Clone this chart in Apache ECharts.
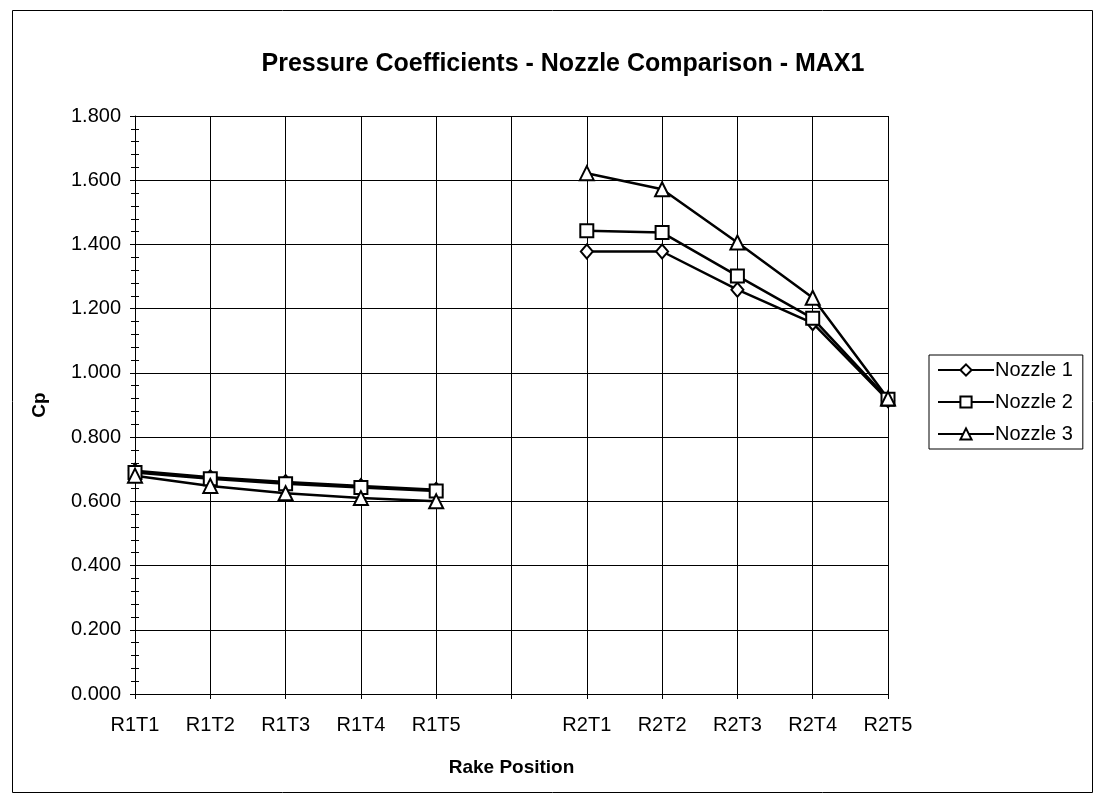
<!DOCTYPE html>
<html>
<head>
<meta charset="utf-8">
<script src="https://cdn.jsdelivr.net/npm/echarts@6/dist/echarts.min.js"></script>
<style>
  html, body { margin: 0; padding: 0; background: #fff; }
  #chart { width: 1096px; height: 800px; }
</style>
</head>
<body>
<div id="chart"></div>
<script>
// Rake positions; the empty slot separates rake 1 from rake 2
const categories = ['R1T1', 'R1T2', 'R1T3', 'R1T4', 'R1T5', '', 'R2T1', 'R2T2', 'R2T3', 'R2T4', 'R2T5'];

// Pressure coefficient per nozzle
const nozzle1 = [0.695, 0.675, 0.660, 0.648, 0.636, null, 1.378, 1.378, 1.259, 1.155, 0.915];
const nozzle2 = [0.690, 0.670, 0.655, 0.643, 0.632, null, 1.443, 1.437, 1.302, 1.170, 0.918];
const nozzle3 = [0.680, 0.648, 0.625, 0.610, 0.600, null, 1.622, 1.572, 1.406, 1.234, 0.920];

const seriesNames = ['Nozzle 1', 'Nozzle 2', 'Nozzle 3'];
const yTicks = { min: 0, max: 1.8, interval: 0.2 };

const FONT = '"Liberation Sans", Arial, sans-serif';
const chart = echarts.init(document.getElementById('chart'), null, { renderer: 'canvas' });

function lineSeries(name, data, symbol, size) {
  return {
    name: name,
    type: 'line',
    data: data,
    connectNulls: false,
    symbol: symbol,
    symbolSize: size,
    showAllSymbol: true,
    lineStyle: { color: '#000', width: 2.5 },
    itemStyle: { color: '#fff', borderColor: '#000', borderWidth: 2 },
    emphasis: { disabled: true },
    z: 3
  };
}

chart.setOption({
  animation: false,
  backgroundColor: '#fff',
  title: {
    text: 'Pressure Coefficients - Nozzle Comparison - MAX1',
    left: 558,
    textAlign: 'center',
    top: 47,
    textStyle: { fontFamily: FONT, fontWeight: 'bold', fontSize: 25, color: '#000' }
  },
  legend: {
    orient: 'vertical',
    left: 929,
    top: 355,
    data: seriesNames,
    itemWidth: 56,
    itemHeight: 14,
    itemGap: 12,
    padding: [5, 10, 5, 8],
    borderColor: '#000',
    borderWidth: 1,
    textStyle: { fontFamily: FONT, fontSize: 20, color: '#000', padding: [0, 0, 0, -4] }
  },
  grid: { left: 135, right: 208, top: 116, bottom: 106, containLabel: false },
  xAxis: {
    type: 'category',
    data: categories,
    boundaryGap: false,
    name: 'Rake Position',
    nameLocation: 'middle',
    nameGap: 64,
    nameTextStyle: { fontFamily: FONT, fontWeight: 'bold', fontSize: 19, color: '#000' },
    axisLine: { show: true, lineStyle: { color: '#000', width: 1 } },
    axisTick: { show: true, alignWithLabel: true, length: 5, lineStyle: { color: '#000' } },
    axisLabel: { fontFamily: FONT, fontSize: 20, color: '#000', margin: 21, interval: 0 },
    splitLine: { show: true, lineStyle: { color: '#000', width: 1 } }
  },
  yAxis: [
    {
      type: 'value',
      min: yTicks.min,
      max: yTicks.max,
      interval: yTicks.interval,
      name: 'Cp',
      nameLocation: 'middle',
      nameGap: 86,
      nameRotate: 90,
      nameTextStyle: { fontFamily: FONT, fontWeight: 'bold', fontSize: 19, color: '#000' },
      axisLine: { show: true, lineStyle: { color: '#000', width: 1 } },
      axisTick: { show: true, length: 5, lineStyle: { color: '#000' } },
      minorTick: { show: true, splitNumber: 5, length: 4, lineStyle: { color: '#000' } },
      axisLabel: {
        fontFamily: FONT, fontSize: 20, color: '#000', margin: 14,
        formatter: v => v.toFixed(3)
      },
      splitLine: { show: true, lineStyle: { color: '#000', width: 1 } }
    },
    {
      // inner half of the cross-shaped minor ticks
      type: 'value',
      min: yTicks.min,
      max: yTicks.max,
      interval: yTicks.interval,
      position: 'left',
      axisLine: { show: false },
      axisTick: { show: true, inside: true, length: 4, lineStyle: { color: '#000' } },
      minorTick: { show: true, splitNumber: 5, length: 4, lineStyle: { color: '#000' } },
      axisLabel: { show: false },
      splitLine: { show: false }
    }
  ],
  series: [
    lineSeries(seriesNames[0], nozzle1, 'diamond', [12, 14]),
    lineSeries(seriesNames[1], nozzle2, 'rect', 13),
    lineSeries(seriesNames[2], nozzle3, 'triangle', 14)
  ],
  graphic: [
    {
      type: 'rect',
      shape: { x: 12.5, y: 10.5, width: 1080, height: 782 },
      style: { fill: null, stroke: '#000', lineWidth: 1 },
      silent: true
    },
    {
      // right border of the plot area
      type: 'line',
      shape: { x1: 888.5, y1: 116, x2: 888.5, y2: 694 },
      style: { stroke: '#000', lineWidth: 1 },
      silent: true
    }
  ]
});
</script>
</body>
</html>
